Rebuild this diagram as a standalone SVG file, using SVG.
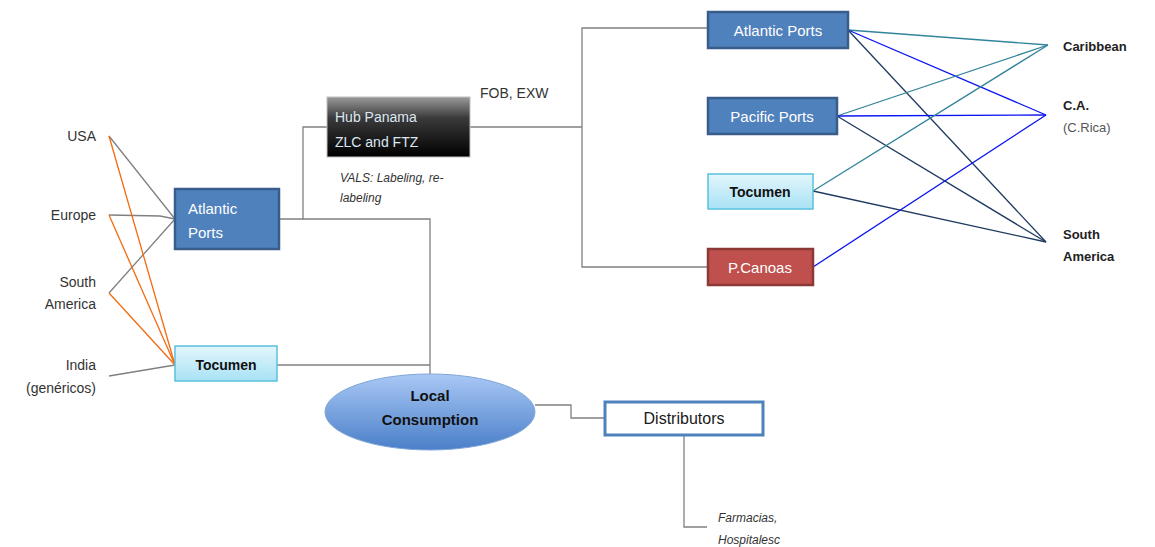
<svg xmlns="http://www.w3.org/2000/svg" width="1155" height="547" viewBox="0 0 1155 547">
  <style>
    text { font-family: "Liberation Sans", "DejaVu Sans", sans-serif; font-size: 14px; fill: #333; }
    .wt { fill: #ffffff; }
    .bk { fill: #111; font-weight: bold; }
    .mk { fill: #222; font-weight: bold; font-size: 13px; }
    .it { font-style: italic; font-size: 12px; fill: #333; }
    .gray { stroke: #808080; stroke-width: 1.3; fill: none; }
    .org { stroke: #f26b10; stroke-width: 1.3; fill: none; }
    .teal { stroke: #31849b; stroke-width: 1.3; fill: none; }
    .blue { stroke: #0a14f0; stroke-width: 1.3; fill: none; }
    .navy { stroke: #1f3a60; stroke-width: 1.3; fill: none; }
    .dbox { fill: #4f81bd; stroke: #385d8a; stroke-width: 2.5; }
    .cbox { fill: url(#cyan); stroke: #5bc0de; stroke-width: 1.5; }
  </style>
  <defs>
    <linearGradient id="cyan" x1="0" y1="0" x2="0" y2="1">
      <stop offset="0" stop-color="#e3f6fc"/>
      <stop offset="1" stop-color="#a8e2f5"/>
    </linearGradient>
    <linearGradient id="hub" x1="0" y1="0" x2="0" y2="1">
      <stop offset="0" stop-color="#9a9a9a"/>
      <stop offset="0.35" stop-color="#3a3a3a"/>
      <stop offset="1" stop-color="#000000"/>
    </linearGradient>
    <linearGradient id="oval" x1="0" y1="0" x2="0" y2="1">
      <stop offset="0" stop-color="#a9c8f5"/>
      <stop offset="1" stop-color="#4a7fc8"/>
    </linearGradient>
  </defs>

  <rect width="1155" height="547" fill="#ffffff"/>

  <!-- connectors -->
  <g id="connectors">
    <!-- origins to Atlantic Ports -->
    <polyline class="gray" points="109,136 175,219"/>
    <polyline class="gray" points="109,215 160,216 175,219"/>
    <polyline class="gray" points="109,293 175,219"/>
    <!-- origins to Tocumen -->
    <polyline class="org" points="109,136 175,365"/>
    <polyline class="org" points="109,215 175,365"/>
    <polyline class="org" points="109,293 175,365"/>
    <polyline class="gray" points="109,376 175,365"/>
    <!-- Atlantic Ports to hub and local consumption -->
    <polyline class="gray" points="279,219 303,219 303,127 327,127"/>
    <polyline class="gray" points="303,219 430,219 430,374"/>
    <polyline class="gray" points="277,365 430,365"/>
    <!-- hub to re-export ports -->
    <polyline class="gray" points="470,127 582,127"/>
    <polyline class="gray" points="708,28 582,28 582,267 708,267"/>
    <!-- re-export ports to markets -->
    <line class="teal" x1="848" y1="30" x2="1048" y2="45"/>
    <line class="blue" x1="848" y1="30" x2="1046" y2="115"/>
    <line class="navy" x1="848" y1="30" x2="1046" y2="242"/>
    <line class="teal" x1="837" y1="116" x2="1048" y2="45"/>
    <line class="blue" x1="837" y1="116" x2="1046" y2="115"/>
    <line class="navy" x1="837" y1="116" x2="1046" y2="242"/>
    <line class="teal" x1="813" y1="191" x2="1048" y2="45"/>
    <line class="navy" x1="813" y1="191" x2="1046" y2="242"/>
    <line class="blue" x1="813" y1="267" x2="1046" y2="115"/>
    <!-- local distribution -->
    <polyline class="gray" points="535,405 571,405 571,418 605,418"/>
    <polyline class="gray" points="684,435 684,527 707,527"/>
  </g>

  <!-- origin labels -->
  <g id="origins">
    <text x="96" y="141" text-anchor="end">USA</text>
    <text x="96" y="220" text-anchor="end">Europe</text>
    <text x="96" y="287" text-anchor="end">South</text>
    <text x="96" y="309" text-anchor="end">America</text>
    <text x="96" y="370" text-anchor="end">India</text>
    <text x="96" y="393" text-anchor="end">(genéricos)</text>
  </g>

  <g id="atlantic-ports-in">
    <rect class="dbox" x="175" y="189" width="104" height="60"/>
    <text class="wt" x="188" y="214" style="font-size:15px">Atlantic</text>
    <text class="wt" x="188" y="238" style="font-size:15px">Ports</text>
  </g>

  <g id="tocumen-in">
    <rect class="cbox" x="175" y="346" width="102" height="35"/>
    <text class="bk" x="226" y="370" text-anchor="middle">Tocumen</text>
  </g>

  <g id="hub-panama">
    <rect x="327" y="97" width="143" height="60" fill="url(#hub)" stroke="#bfbfbf" stroke-width="1"/>
    <text x="335" y="122" style="fill:#dce6f2">Hub Panama</text>
    <text x="335" y="147" style="fill:#dce6f2">ZLC and FTZ</text>
  </g>

  <g id="hub-notes">
    <text x="480" y="98">FOB, EXW</text>
    <text class="it" x="340" y="182">VALS: Labeling, re-</text>
    <text class="it" x="340" y="202">labeling</text>
  </g>

  <g id="atlantic-ports-out">
    <rect class="dbox" x="708" y="12" width="140" height="36"/>
    <text class="wt" x="778" y="36" text-anchor="middle" style="font-size:15px">Atlantic Ports</text>
  </g>

  <g id="pacific-ports">
    <rect class="dbox" x="708" y="98" width="129" height="36"/>
    <text class="wt" x="772" y="122" text-anchor="middle" style="font-size:15px">Pacific Ports</text>
  </g>

  <g id="tocumen-out">
    <rect class="cbox" x="708" y="174" width="105" height="35"/>
    <text class="bk" x="760" y="197" text-anchor="middle">Tocumen</text>
  </g>

  <g id="p-canoas">
    <rect x="708" y="249" width="105" height="36" fill="#c0504d" stroke="#8c3836" stroke-width="2.5"/>
    <text class="wt" x="760" y="273" text-anchor="middle" style="font-size:15px">P.Canoas</text>
  </g>

  <!-- market labels -->
  <g id="markets">
    <text class="mk" x="1063" y="51">Caribbean</text>
    <text class="mk" x="1063" y="110">C.A.</text>
    <text x="1063" y="132" style="font-size:13px;fill:#555">(C.Rica)</text>
    <text class="mk" x="1063" y="239">South</text>
    <text class="mk" x="1063" y="261">America</text>
  </g>

  <g id="local-consumption">
    <ellipse cx="430" cy="412" rx="105" ry="38" fill="url(#oval)" stroke="#7fa5d8" stroke-width="1"/>
    <text class="bk" x="430" y="401" text-anchor="middle" style="font-size:15px">Local</text>
    <text class="bk" x="430" y="425" text-anchor="middle" style="font-size:15px">Consumption</text>
  </g>

  <g id="distributors">
    <rect x="605" y="402" width="158" height="33" fill="#ffffff" stroke="#4f81bd" stroke-width="3"/>
    <text x="684" y="424" text-anchor="middle" style="font-size:16px;fill:#1a1a1a">Distributors</text>
  </g>

  <g id="outlets">
    <text class="it" x="718" y="522">Farmacias,</text>
    <text class="it" x="718" y="544">Hospitalesc</text>
  </g>
</svg>
